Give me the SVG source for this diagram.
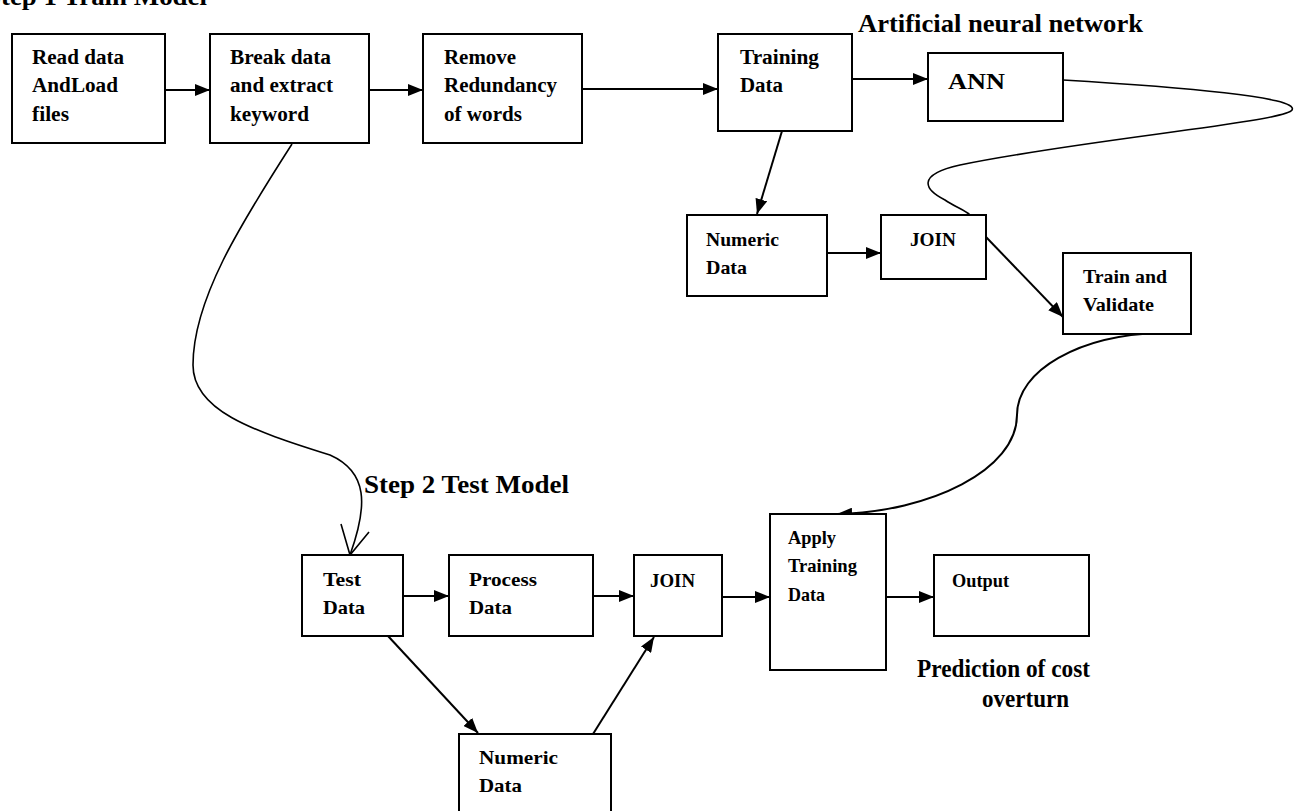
<svg xmlns="http://www.w3.org/2000/svg" width="1295" height="811" viewBox="0 0 1295 811">
<style>
  .box { fill: #fff; stroke: #000; stroke-width: 2; }
  .t { font-family: "Liberation Serif", "Times New Roman", serif; font-weight: bold; fill: #000; }
  .t19 { font-size: 20px; }
  .t18 { font-size: 19px; }
  .big { font-size: 25px; }
  .ln { fill: none; stroke: #000; stroke-width: 2; }
  .cv { fill: none; stroke: #000; stroke-width: 1.6; }
</style>
<defs>
  <marker id="ah" viewBox="0 0 15 12" refX="15" refY="6" markerWidth="15" markerHeight="12" markerUnits="userSpaceOnUse" orient="auto">
    <path d="M0,0 L15,6 L0,12 Z" fill="#000"/>
  </marker>
</defs>

<text class="t big" x="-14" y="5" textLength="221" lengthAdjust="spacingAndGlyphs">Step 1 Train Model</text>
<text class="t big" x="858" y="32" textLength="285" lengthAdjust="spacingAndGlyphs">Artificial neural network</text>
<text class="t big" x="364" y="493" textLength="205" lengthAdjust="spacingAndGlyphs">Step 2 Test Model</text>
<text class="t big" x="917" y="677" textLength="173" lengthAdjust="spacingAndGlyphs">Prediction of cost</text>
<text class="t big" x="982" y="707" textLength="87" lengthAdjust="spacingAndGlyphs">overturn</text>

<g id="connectors">
  <line class="ln" x1="165" y1="90" x2="210" y2="90" marker-end="url(#ah)"/>
  <line class="ln" x1="369" y1="90" x2="423" y2="90" marker-end="url(#ah)"/>
  <line class="ln" x1="582" y1="89" x2="718" y2="89" marker-end="url(#ah)"/>
  <line class="ln" x1="848" y1="79" x2="928" y2="79" marker-end="url(#ah)"/>
  <line class="ln" x1="782" y1="131" x2="757" y2="214" marker-end="url(#ah)"/>
  <line class="ln" x1="827" y1="253" x2="881" y2="253" marker-end="url(#ah)"/>
  <line class="ln" x1="986" y1="237" x2="1063" y2="317" marker-end="url(#ah)"/>
  <path class="cv" d="M1063,80 C1180,87 1300,97 1292,110 C1285,122 1080,140 960,165 C915,175 925,190 945,200 C955,207 965,210 970,215"/>
  <path class="ln" d="M1160,333 C1080,335 1017,370 1017,415 C1017,470 930,512 837,514" marker-end="url(#ah)"/>
  <path class="cv" d="M292,144 C240,225 193,300 193,365 C193,410 250,430 330,455 C368,472 368,505 350,555"/>
  <polyline class="cv" points="341,524 350,555 369,532"/>
  <line class="ln" x1="403" y1="596" x2="449" y2="596" marker-end="url(#ah)"/>
  <line class="ln" x1="593" y1="596" x2="634" y2="596" marker-end="url(#ah)"/>
  <line class="ln" x1="722" y1="597" x2="770" y2="597" marker-end="url(#ah)"/>
  <line class="ln" x1="886" y1="597" x2="934" y2="597" marker-end="url(#ah)"/>
  <line class="ln" x1="388" y1="636" x2="478" y2="733" marker-end="url(#ah)"/>
  <line class="ln" x1="593" y1="734" x2="654" y2="637" marker-end="url(#ah)"/>
</g>

<g id="read-data">
  <rect class="box" x="12" y="34" width="153" height="109"/>
  <text class="t t19" x="32" y="64" textLength="92" lengthAdjust="spacingAndGlyphs">Read data</text>
  <text class="t t19" x="32" y="92" textLength="86" lengthAdjust="spacingAndGlyphs">AndLoad</text>
  <text class="t t19" x="32" y="121" textLength="37" lengthAdjust="spacingAndGlyphs">files</text>
</g>
<g id="break-data">
  <rect class="box" x="210" y="34" width="159" height="109"/>
  <text class="t t19" x="230" y="64" textLength="101" lengthAdjust="spacingAndGlyphs">Break data</text>
  <text class="t t19" x="230" y="92" textLength="103" lengthAdjust="spacingAndGlyphs">and extract</text>
  <text class="t t19" x="230" y="121" textLength="79" lengthAdjust="spacingAndGlyphs">keyword</text>
</g>
<g id="remove-redundancy">
  <rect class="box" x="423" y="34" width="159" height="109"/>
  <text class="t t19" x="444" y="64" textLength="72" lengthAdjust="spacingAndGlyphs">Remove</text>
  <text class="t t19" x="444" y="92" textLength="113" lengthAdjust="spacingAndGlyphs">Redundancy</text>
  <text class="t t19" x="444" y="121" textLength="78" lengthAdjust="spacingAndGlyphs">of words</text>
</g>
<g id="training-data">
  <rect class="box" x="718" y="34" width="134" height="97"/>
  <text class="t t19" x="740" y="64" textLength="79" lengthAdjust="spacingAndGlyphs">Training</text>
  <text class="t t19" x="740" y="92" textLength="43" lengthAdjust="spacingAndGlyphs">Data</text>
</g>
<g id="ann">
  <rect class="box" x="928" y="53" width="135" height="68"/>
  <text class="t" font-size="24" x="948" y="89" textLength="57" lengthAdjust="spacingAndGlyphs">ANN</text>
</g>
<g id="numeric-data-1">
  <rect class="box" x="687" y="215" width="140" height="81"/>
  <text class="t t18" x="706" y="246" textLength="73" lengthAdjust="spacingAndGlyphs">Numeric</text>
  <text class="t t18" x="706" y="274" textLength="41" lengthAdjust="spacingAndGlyphs">Data</text>
</g>
<g id="join-1">
  <rect class="box" x="881" y="215" width="105" height="64"/>
  <text class="t t18" x="910" y="246" textLength="46" lengthAdjust="spacingAndGlyphs">JOIN</text>
</g>
<g id="train-validate">
  <rect class="box" x="1063" y="253" width="128" height="81"/>
  <text class="t t18" x="1083" y="283" textLength="84" lengthAdjust="spacingAndGlyphs">Train and</text>
  <text class="t t18" x="1083" y="311" textLength="71" lengthAdjust="spacingAndGlyphs">Validate</text>
</g>
<g id="test-data">
  <rect class="box" x="302" y="555" width="101" height="81"/>
  <text class="t t18" x="323" y="586" textLength="38" lengthAdjust="spacingAndGlyphs">Test</text>
  <text class="t t18" x="323" y="614" textLength="42" lengthAdjust="spacingAndGlyphs">Data</text>
</g>
<g id="process-data">
  <rect class="box" x="449" y="555" width="144" height="81"/>
  <text class="t t18" x="469" y="586" textLength="68" lengthAdjust="spacingAndGlyphs">Process</text>
  <text class="t t18" x="469" y="614" textLength="43" lengthAdjust="spacingAndGlyphs">Data</text>
</g>
<g id="join-2">
  <rect class="box" x="634" y="555" width="88" height="81"/>
  <text class="t t18" x="650" y="587" textLength="45" lengthAdjust="spacingAndGlyphs">JOIN</text>
</g>
<g id="apply-training-data">
  <rect class="box" x="770" y="514" width="116" height="156"/>
  <text class="t t18" x="788" y="544" textLength="48" lengthAdjust="spacingAndGlyphs">Apply</text>
  <text class="t t18" x="788" y="572" textLength="69" lengthAdjust="spacingAndGlyphs">Training</text>
  <text class="t t18" x="788" y="601" textLength="37" lengthAdjust="spacingAndGlyphs">Data</text>
</g>
<g id="output">
  <rect class="box" x="934" y="555" width="155" height="81"/>
  <text class="t t18" x="952" y="587" textLength="57" lengthAdjust="spacingAndGlyphs">Output</text>
</g>
<g id="numeric-data-2">
  <rect class="box" x="459" y="734" width="152" height="84"/>
  <text class="t t18" x="479" y="764" textLength="79" lengthAdjust="spacingAndGlyphs">Numeric</text>
  <text class="t t18" x="479" y="792" textLength="43" lengthAdjust="spacingAndGlyphs">Data</text>
</g>
</svg>
